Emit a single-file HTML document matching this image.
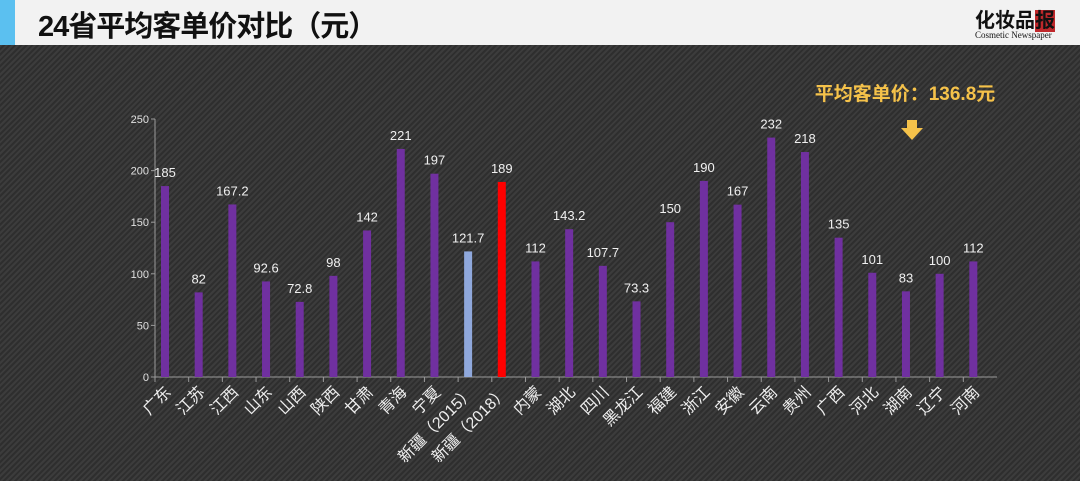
<!DOCTYPE html>
<html><head><meta charset="utf-8">
<style>
body{margin:0;width:1080px;height:481px;overflow:hidden;font-family:"Liberation Sans","Noto Sans CJK SC",sans-serif;}
#bg{position:absolute;left:0;top:45px;width:1080px;height:436px;background:repeating-linear-gradient(135deg,#3c3c3c 0 2px,#2e2e2e 2px 4px);}
#hdr{position:absolute;left:0;top:0;width:1080px;height:45px;background:#f2f2f2;}
#bar{position:absolute;left:0;top:0;width:15px;height:45px;background:#5bc0f0;}
#title{position:absolute;left:38px;top:3px;font-size:29px;font-weight:bold;color:#111;letter-spacing:-1px;}
#logo{position:absolute;left:975px;top:4px;font-size:20px;font-weight:bold;color:#111;}
#logo small{display:block;font-family:"Liberation Serif",serif;font-size:9px;font-weight:normal;margin-top:-3px;}
svg{position:absolute;left:0;top:0;}
</style></head><body>
<div id="bg"></div>
<div id="hdr"><div id="bar"></div>
<div id="title">24省平均客单价对比（元）</div>
<div id="logo">化妆品<span style="background:#c0282b;color:#111">报</span><small>Cosmetic Newspaper</small></div></div>
<svg width="1080" height="481" id="chart">
<text x="905" y="100" fill="#f5c24a" font-size="19" font-weight="bold" text-anchor="middle">平均客单价：136.8元</text>
<path d="M907 120h10v8h6l-11 12l-11-12h6z" fill="#f5c24a"/>
</svg>
<script>
const categories=["广东","江苏","江西","山东","山西","陕西","甘肃","青海","宁夏","新疆（2015）","新疆（2018）","内蒙","湖北","四川","黑龙江","福建","浙江","安徽","云南","贵州","广西","河北","湖南","辽宁","河南"];
const values=[185,82,167.2,92.6,72.8,98,142,221,197,121.7,189,112,143.2,107.7,73.3,150,190,167,232,218,135,101,83,100,112];
const valueLabels=["185","82","167.2","92.6","72.8","98","142","221","197","121.7","189","112","143.2","107.7","73.3","150","190","167","232","218","135","101","83","100","112"];
const yTicks=[0,50,100,150,200,250];
const svg=document.getElementById('chart');const NS='http://www.w3.org/2000/svg';
const x0=155,x1=997,y0=377,y1=119,step=(x1-x0)/categories.length;
const Y=v=>y0-(v/250)*(y0-y1);const X=i=>x0+step*i+10;
function mk(t,a){const e=document.createElementNS(NS,t);for(const k in a)e.setAttribute(k,a[k]);svg.appendChild(e);return e;}
let e=mk('line',{x1:x0,y1:y0,x2:x1,y2:y0,stroke:'#9a9a9a'});


e=mk('line',{x1:x0,y1:y1,x2:x0,y2:y0,stroke:'#9a9a9a'});


yTicks.forEach(t=>{mk('line',{x1:x0-4,y1:Y(t),x2:x0,y2:Y(t),stroke:'#9a9a9a'});
const l=mk('text',{x:x0-6,y:Y(t)+4,fill:'#e0e0e0','font-size':11,'text-anchor':'end'});l.textContent=t;

});
categories.forEach((c,i)=>{
mk('line',{x1:x0+step*i,y1:y0,x2:x0+step*i,y2:y0+5,stroke:'#9a9a9a'});
const col=i===9?'#8fa8dc':(i===10?'#ff0000':'#7030a0');
const b=mk('rect',{x:X(i)-4,y:Y(values[i]),width:8,height:y0-Y(values[i]),fill:col});


const v=mk('text',{x:X(i),y:Y(values[i])-9,fill:'#f0f0f0','font-size':13,'text-anchor':'middle'});v.textContent=valueLabels[i];


const l=mk('text',{x:X(i)+7,y:y0+16,fill:'#eeeeee','font-size':16,'text-anchor':'end',transform:`rotate(-45 ${X(i)+7} ${y0+16})`});l.textContent=c;


});
</script>
</body></html>
